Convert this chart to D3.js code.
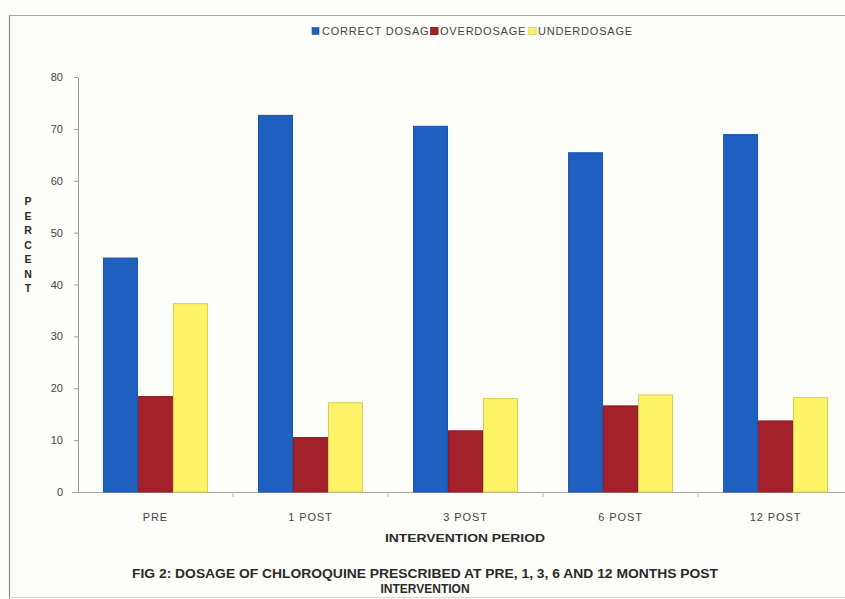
<!DOCTYPE html>
<html>
<head>
<meta charset="utf-8">
<script src="https://cdn.jsdelivr.net/npm/d3@7"></script>
<style>
  html, body { margin: 0; padding: 0; background: #fdfdf9; }
  svg { display: block; }
  text { font-family: "Liberation Sans", Arial, sans-serif; }
</style>
</head>
<body>
<svg id="chart" width="845" height="599"></svg>
<script>
// Chloroquine dosage by intervention period (percent of prescriptions)
const periods = ["PRE", "1 POST", "3 POST", "6 POST", "12  POST"];
const seriesNames = ["CORRECT DOSAGE", "OVERDOSAGE", "UNDERDOSAGE"];
const correctDosage = [45.1, 72.6, 70.5, 65.4, 68.9];
const overDosage = [18.4, 10.5, 11.8, 16.6, 13.7];
const underDosage = [36.3, 17.2, 18.0, 18.7, 18.2];
const yTicks = [0, 10, 20, 30, 40, 50, 60, 70, 80];

const seriesValues = [correctDosage, overDosage, underDosage];
const fills = ["#1f5fc0", "#a3212b", "#fff467"];
const strokes = ["#1a55ad", "#8e1c24", "#d9cc55"];

const svg = d3.select("#chart");
const W = 845, H = 599;
const FONT = "'Liberation Sans', Arial, sans-serif";

// frame
svg.append("rect").attr("x", 0).attr("y", 0).attr("width", W).attr("height", H).attr("fill", "#fdfdf9");
svg.append("line").attr("x1", 9.5).attr("x2", 9.5).attr("y1", 15).attr("y2", 599)
  .attr("stroke", "#8a8a86").attr("stroke-width", 1.2);
svg.append("line").attr("x1", 9).attr("x2", W).attr("y1", 15.5).attr("y2", 15.5)
  .attr("stroke", "#a9a9a2").attr("stroke-width", 1.2);
svg.append("line").attr("x1", 9).attr("x2", W).attr("y1", 597.5).attr("y2", 597.5)
  .attr("stroke", "#d8d8d0").attr("stroke-width", 1);

const x0 = d3.scaleBand().domain(periods).range([78, 853]).paddingInner(0.323).paddingOuter(0.161);
const x1 = d3.scaleBand().domain(seriesNames).range([0, x0.bandwidth()]);
const y = d3.scaleLinear().domain([0, 80]).range([492, 77]);

// y axis
const yAxis = svg.append("g").attr("transform", "translate(78,0)")
  .call(d3.axisLeft(y).tickValues(yTicks).tickSize(4).tickPadding(11).tickSizeOuter(0));
yAxis.select(".domain").attr("stroke", "#9a9a96");
yAxis.selectAll(".tick line").attr("stroke", "#9a9a96");
yAxis.selectAll(".tick text").attr("fill", "#444").style("font-size", "11px")
  .style("font-family", FONT);

// x axis baseline with ticks at category boundaries
const xAxis = svg.append("g").attr("transform", "translate(0,492)")
  .call(d3.axisBottom(x0).tickSize(0).tickPadding(21).tickSizeOuter(0));
xAxis.select(".domain").attr("stroke", "#a5a5a0").attr("d", "M72,0.5H845");
xAxis.selectAll(".tick text").attr("fill", "#444").style("font-size", "11px")
  .style("letter-spacing", "0.9px").style("font-family", FONT);
const bounds = periods.map(p => x0(p) - x0.step() * x0.paddingInner() / 2).slice(1);
svg.append("g").selectAll("line").data(bounds).join("line")
  .attr("x1", d => d).attr("x2", d => d).attr("y1", 492).attr("y2", 497)
  .attr("stroke", "#b5b5b0");

// bars
const groups = svg.append("g").selectAll("g").data(periods).join("g")
  .attr("transform", p => `translate(${x0(p)},0)`);
groups.selectAll("rect")
  .data((p, i) => seriesNames.map((s, k) => ({ s, k, v: seriesValues[k][i] })))
  .join("rect")
  .attr("x", d => x1(d.s) + 0.5)
  .attr("width", x1.bandwidth() - 1)
  .attr("y", d => y(d.v))
  .attr("height", d => y(0) - y(d.v))
  .attr("fill", d => fills[d.k])
  .attr("stroke", d => strokes[d.k])
  .attr("stroke-width", 1);

// legend
const legendX = [312, 431, 529];
const legend = svg.append("g").selectAll("g").data(seriesNames).join("g")
  .attr("transform", (d, i) => `translate(${legendX[i]},31)`);
legend.append("rect").attr("x", 0).attr("y", -3.5).attr("width", 7).attr("height", 7)
  .attr("fill", (d, i) => fills[i]).attr("stroke", (d, i) => strokes[i]).attr("stroke-width", 0.6);
legend.append("text").attr("x", (d, i) => i === 0 ? 10 : 9).attr("y", 4)
  .attr("fill", "#444").style("font-size", "11px").style("letter-spacing", "0.8px").text(d => d);
// squares drawn again on top so each sits over the preceding label
svg.append("g").selectAll("rect").data(seriesNames.slice(1)).join("rect")
  .attr("x", (d, i) => legendX[i + 1]).attr("y", 27.5).attr("width", 7).attr("height", 7)
  .attr("fill", (d, i) => fills[i + 1]).attr("stroke", (d, i) => strokes[i + 1]).attr("stroke-width", 0.6);

// y axis title, stacked letters
const yTitle = "PERCENT".split("");
svg.append("g").selectAll("text").data(yTitle).join("text")
  .attr("x", 28).attr("y", (d, i) => 205 + i * 14.5)
  .attr("text-anchor", "middle").attr("fill", "#2a2a2a")
  .style("font-size", "10.5px").style("font-weight", "bold").text(d => d);

// x axis title
svg.append("text").attr("x", 465).attr("y", 542).attr("text-anchor", "middle")
  .attr("fill", "#2a2a2a").style("font-size", "11px").style("font-weight", "bold")
  .attr("textLength", 160).attr("lengthAdjust", "spacingAndGlyphs")
  .text("INTERVENTION PERIOD");

// caption
svg.append("text").attr("x", 425).attr("y", 578).attr("text-anchor", "middle")
  .attr("fill", "#2a2a2a").style("font-size", "12px").style("font-weight", "bold")
  .attr("textLength", 586).attr("lengthAdjust", "spacingAndGlyphs")
  .text("FIG 2: DOSAGE OF CHLOROQUINE PRESCRIBED AT PRE, 1, 3, 6 AND 12 MONTHS POST");
svg.append("text").attr("x", 425).attr("y", 593).attr("text-anchor", "middle")
  .attr("fill", "#2a2a2a").style("font-size", "12px").style("font-weight", "bold")
  .text("INTERVENTION");
</script>
</body>
</html>
